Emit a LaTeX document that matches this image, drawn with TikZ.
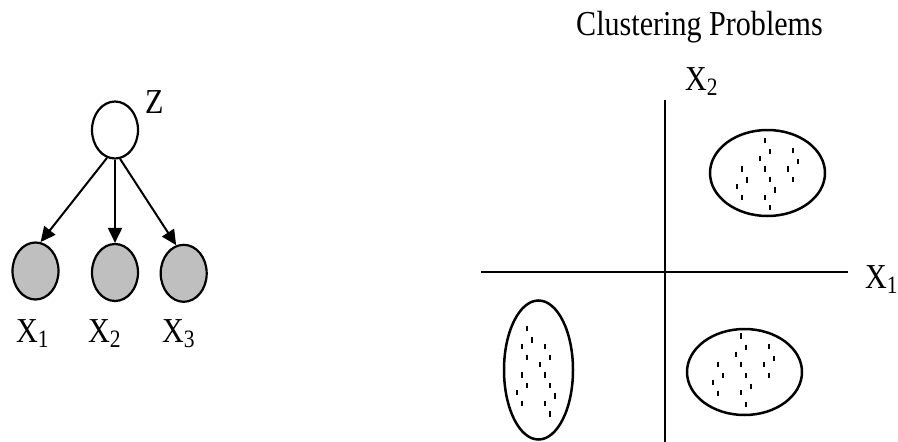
\documentclass[tikz,border=0pt]{standalone}
\usepackage{fontspec}
\setmainfont{Liberation Serif}
\usepackage{graphicx}
\usetikzlibrary{arrows.meta,shapes.geometric}
% large serif text, slightly condensed
\newcommand{\bigfont}{\fontsize{35}{38}\selectfont}
\newcommand{\narrow}[1]{\scalebox{0.86}[1]{#1}}
\newcommand{\Xs}[1]{\narrow{X\raisebox{-5pt}{\fontsize{25}{25}\selectfont #1}}}

\begin{document}
\begin{tikzpicture}[x=1pt,y=-1pt,
  varnode/.style={ellipse,draw,line width=2.2pt,inner sep=0pt,
    minimum width=46pt,minimum height=57pt},
  observed/.style={varnode,fill=black!25},
  edge/.style={line width=2pt,-{Triangle[length=15pt,width=14pt]}},
  axis/.style={line width=2pt},
  cluster/.style={ellipse,draw,line width=2.5pt,inner sep=0pt},
  pt/.style={line width=2.3pt},
  lbl/.style={anchor=base west,inner sep=0pt,font=\bigfont}]

\fill[white] (0,0) rectangle (898,442);
\useasboundingbox (0,0) rectangle (898,442);

% ---- graphical model: latent Z with three observed children ----
\node[varnode] (z) at (115,130) {};
\node[observed] (x1) at (35.5,271) {};
\node[observed] (x2) at (115,272.5) {};
\node[observed] (x3) at (183.7,273.3) {};

\draw[edge] (z.254) -- (x1.80);
\draw[edge] (z.south) -- (x2.north);
\draw[edge] (z.280) -- (x3.105);

\node[lbl] (zl) at (145,113) {\narrow{Z}};
\node[lbl] (x1l) at (16,342) {\Xs{1}};
\node[lbl] (x2l) at (88,342) {\Xs{2}};
\node[lbl] (x3l) at (162,342) {\Xs{3}};

% ---- clustering plot ----
\node[lbl] (title) at (576,35) {\narrow{Clustering Problems}};

\coordinate (vtop) at (665,100);
\coordinate (vbot) at (665,442);
\coordinate (hleft) at (481,272);
\coordinate (hright) at (848,272);
\draw[axis] (vtop) -- (vbot);
\draw[axis] (hleft) -- (hright);

\node[lbl] (ax2) at (685,90) {\Xs{2}};
\node[lbl] (ax1) at (865,288) {\Xs{1}};

\node[cluster,minimum width=115pt,minimum height=86pt] (c1) at (767.5,173) {};
\node[cluster,minimum width=115pt,minimum height=86pt] (c2) at (744.5,372) {};
\node[cluster,minimum width=69pt,minimum height=139pt] (c3) at (538.5,370) {};

% data points inside each cluster
\foreach \px/\py in {765/140.7,770/151.7,792.7/150.7,760/158.3,797.7/161.7,
    742.3/169,765/169,787.7/169,747.3/180,770/179.3,792.7/179.3,
    737.3/186.7,775/190,742.3/197.3,765/197.3,770/207.7}
  \draw[pt] (\px,\py-2.7) -- (\px,\py+2.7);

\foreach \px/\py in {741/336,746/347.3,768.7/346.7,736/354.3,773.7/358.3,
    718.3/364.3,741/364.3,763.7/364.3,723.3/375.7,746/375.7,768.7/375.7,
    713.3/382.3,751/386.7,718.3/393.3,741/392.7,746/404.3}
  \draw[pt] (\px,\py-2.7) -- (\px,\py+2.7);

\foreach \px/\py in {527.3/328.3,532.3/340,522.3/346.7,545/346.7,527.3/357.3,
    550/357.3,540/364.3,522.3/375,545/375,527.3/385.7,550/385.7,
    517.3/392.7,555/396,522.3/403.3,545/403.3,550/414}
  \draw[pt] (\px,\py-2.7) -- (\px,\py+2.7);

\end{tikzpicture}
\end{document}
